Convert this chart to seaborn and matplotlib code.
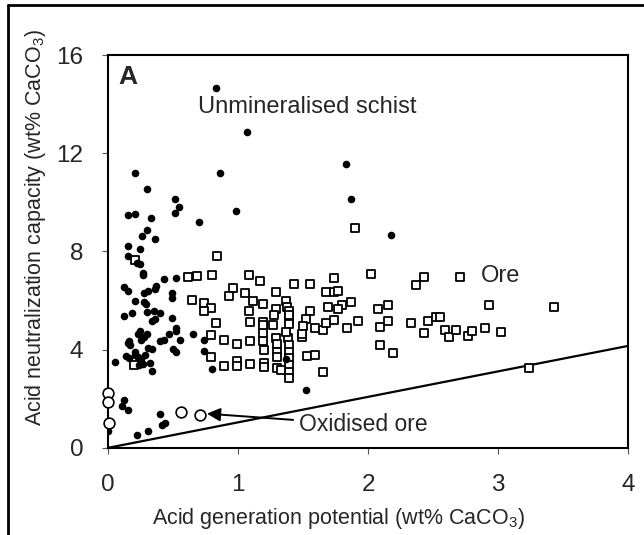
import numpy as np
import pandas as pd
import seaborn as sns
import matplotlib.pyplot as plt
from matplotlib.lines import Line2D

# datos (AGP, ANC en wt% CaCO3)
schist_agp = [0.826, 1.07, 0.21, 0.864, 1.83, 0.295, 0.518, 0.546, 0.518, 0.985,
              0.15, 0.21, 0.327, 0.702, 1.87, 2.18, 0.295, 0.264, 0.36, 0.15,
              0.248, 0.156, 0.222, 0.245, 0.267, 0.27, 0.432, 0.52, 0.124, 0.37,
              0.36, 0.156, 0.308, 0.273, 0.49, 0.21, 0.49, 0.273, 0.29, 0.12,
              0.18, 0.30, 0.35, 0.40, 0.36, 0.334, 0.49, 0.556, 0.52, 0.524,
              0.467, 0.65, 0.248, 0.226, 0.295, 0.276, 0.25, 0.16, 0.152, 0.17,
              0.40, 0.43, 0.308, 0.337, 0.496, 0.52, 0.74, 0.74, 0.80, 0.054,
              0.137, 0.162, 0.203, 0.206, 0.23, 0.254, 0.28, 0.235, 0.267, 0.324,
              0.337, 1.52, 0.124, 0.108, 0.152, 0.40, 0.416, 0.435, 0.308, 0.219,
              0.0, 0.01, 1.37]
schist_anc = [14.68, 12.88, 11.2, 11.2, 11.57, 10.54, 10.15, 9.8, 9.57, 9.65,
              9.47, 9.53, 9.375, 9.22, 10.15, 8.65, 8.89, 8.64, 8.51, 8.21,
              8.08, 7.8, 7.51, 7.47, 7.11, 7.03, 6.86, 6.9, 6.56, 6.58,
              6.49, 6.4, 6.39, 6.31, 6.31, 6.0, 6.11, 5.94, 5.86, 5.375,
              5.5, 5.53, 5.58, 5.51, 5.24, 5.17, 5.3, 4.4, 4.89, 4.75,
              4.64, 4.65, 4.75, 4.63, 4.63, 4.5, 4.4, 4.35, 4.26, 4.17,
              4.35, 4.375, 4.08, 4.01, 4.03, 3.92, 4.40, 3.96, 3.22, 3.5,
              3.72, 3.67, 3.92, 3.78, 3.69, 3.6, 3.78, 3.39, 3.40, 3.44,
              3.11, 2.35, 1.94, 1.72, 1.56, 1.39, 0.94, 1.0, 0.69, 0.54,
              0.68, 1.0, 3.62]

ore_agp = [1.90, 0.836, 0.206, 0.613, 0.68, 0.80, 1.083, 1.17, 1.43, 1.55,
           1.74, 2.02, 2.43, 2.37, 2.71, 0.96, 1.05, 1.29, 1.68, 1.74,
           1.77, 0.93, 1.115, 0.645, 0.737, 1.366, 1.19, 0.79, 0.74, 1.08,
           1.38, 1.39, 1.29, 1.28, 1.55, 1.52, 1.69, 1.80, 1.77, 1.87,
           2.08, 2.15, 2.93, 3.43, 0.83, 1.09, 1.19, 1.27, 1.39, 1.39,
           1.50, 1.59, 1.65, 1.68, 1.74, 1.84, 1.92, 2.09, 2.15, 2.33,
           2.46, 2.52, 2.55, 2.43, 2.59, 2.62, 2.68, 2.77, 2.80, 2.90,
           3.02, 0.89, 0.79, 0.99, 1.09, 1.19, 1.20, 1.19, 1.29, 1.30,
           1.30, 1.30, 1.385, 1.39, 1.39, 1.39, 1.39, 1.39, 1.39, 1.37,
           1.49, 2.09, 2.19, 1.53, 1.59, 1.65, 0.79, 0.89, 0.99, 0.99,
           1.09, 1.20, 1.20, 1.30, 1.33, 0.197, 3.24, 1.19, 1.49, 1.39]
ore_anc = [8.97, 7.8, 7.64, 6.94, 7.0, 7.03, 7.04, 6.79, 6.68, 6.68,
           6.9, 7.1, 6.96, 6.63, 6.96, 6.51, 6.31, 6.35, 6.35, 6.35,
           6.37, 6.17, 6.0, 6.03, 5.89, 5.97, 5.86, 5.69, 5.58, 5.56,
           5.72, 5.56, 5.64, 5.42, 5.58, 5.26, 5.75, 5.83, 5.65, 5.93,
           5.64, 5.83, 5.82, 5.72, 5.1, 5.125, 5.11, 5.0, 5.22, 5.03,
           4.96, 4.89, 4.78, 5.08, 5.21, 4.89, 5.15, 4.92, 5.17, 5.10,
           5.15, 5.31, 5.31, 4.68, 4.78, 4.51, 4.78, 4.54, 4.75, 4.89,
           4.71, 4.40, 4.61, 4.22, 4.35, 4.36, 3.97, 4.68, 4.47, 4.24,
           3.92, 3.68, 4.47, 4.19, 3.92, 3.64, 3.39, 3.08, 2.86, 4.71,
           4.5, 4.19, 3.85, 3.74, 3.78, 3.08, 3.71, 3.32, 3.53, 3.33,
           3.42, 3.46, 3.28, 3.25, 3.19, 3.36, 3.26, 5.0, 4.62, 5.4]

oxid_agp = [0.0, 0.0, 0.01, 0.56, 0.71]
oxid_anc = [2.25, 1.86, 1.03, 1.44, 1.32]

# linea ANC = AGP
line_x = [0, 4]
line_y = [0, 4.15]

schist = pd.DataFrame({"agp": schist_agp, "anc": schist_anc})
ore = pd.DataFrame({"agp": ore_agp, "anc": ore_anc})
oxid = pd.DataFrame({"agp": oxid_agp, "anc": oxid_anc})

sns.set_theme(style="white")
plt.rcParams["font.family"] = ["Liberation Sans", "DejaVu Sans"]

fig = plt.figure(figsize=(6.44, 5.35), dpi=100)
ax = fig.add_axes([0.168, 0.163, 0.807, 0.734])

sns.scatterplot(data=ore, x="agp", y="anc", marker="s", s=30, facecolor="white",
                edgecolor="black", linewidth=1.3, ax=ax, zorder=3)
sns.scatterplot(data=schist, x="agp", y="anc", marker="o", s=30, color="black",
                edgecolor="black", linewidth=0, ax=ax, zorder=4)
sns.scatterplot(data=oxid, x="agp", y="anc", marker="o", s=60, facecolor="white",
                edgecolor="black", linewidth=1.2, ax=ax, zorder=5, clip_on=False)
ax.plot(line_x, line_y, color="black", lw=1.6, zorder=2)

ax.set_xlim(0, 4)
ax.set_ylim(0, 16)
ax.set_xticks([0, 1, 2, 3, 4])
ax.set_yticks([0, 4, 8, 12, 16])
ax.tick_params(axis="both", labelsize=17.5, length=4, width=0.8, color="#555555",
               direction="out", left=True, bottom=True)
ax.tick_params(axis="y", pad=14)
ax.tick_params(axis="x", pad=15)
ax.set_xlabel("Acid generation potential (wt% CaCO$\\mathregular{_3}$)", fontsize=15.5)
ax.set_ylabel("Acid neutralization capacity (wt% CaCO$\\mathregular{_3}$)", fontsize=15.5)
ax.xaxis.set_label_coords(0.444, -0.148)
ax.yaxis.set_label_coords(-0.116, 0.56)
for sp in ax.spines.values():
    sp.set_color("black")
    sp.set_linewidth(1.5)

ax.text(0.08, 15.1, "A", fontsize=19, fontweight="bold", va="center")
ax.text(0.69, 13.9, "Unmineralised schist", fontsize=17, va="center")
ax.text(2.87, 7.0, "Ore", fontsize=17, va="center")
ax.annotate("Oxidised ore", xy=(0.76, 1.39), xytext=(1.47, 0.93), fontsize=16.5, va="center",
            arrowprops=dict(arrowstyle="-|>", color="black", lw=1.4, mutation_scale=20,
                            shrinkA=2, shrinkB=0))

# marco exterior de la figura
fig.add_artist(Line2D([8 / 644, 8 / 644], [0, 1 - 5 / 535], color="black", lw=2))
fig.add_artist(Line2D([8 / 644, 1], [1 - 5 / 535, 1 - 5 / 535], color="black", lw=2))

fig.savefig("out.png", dpi=100)
